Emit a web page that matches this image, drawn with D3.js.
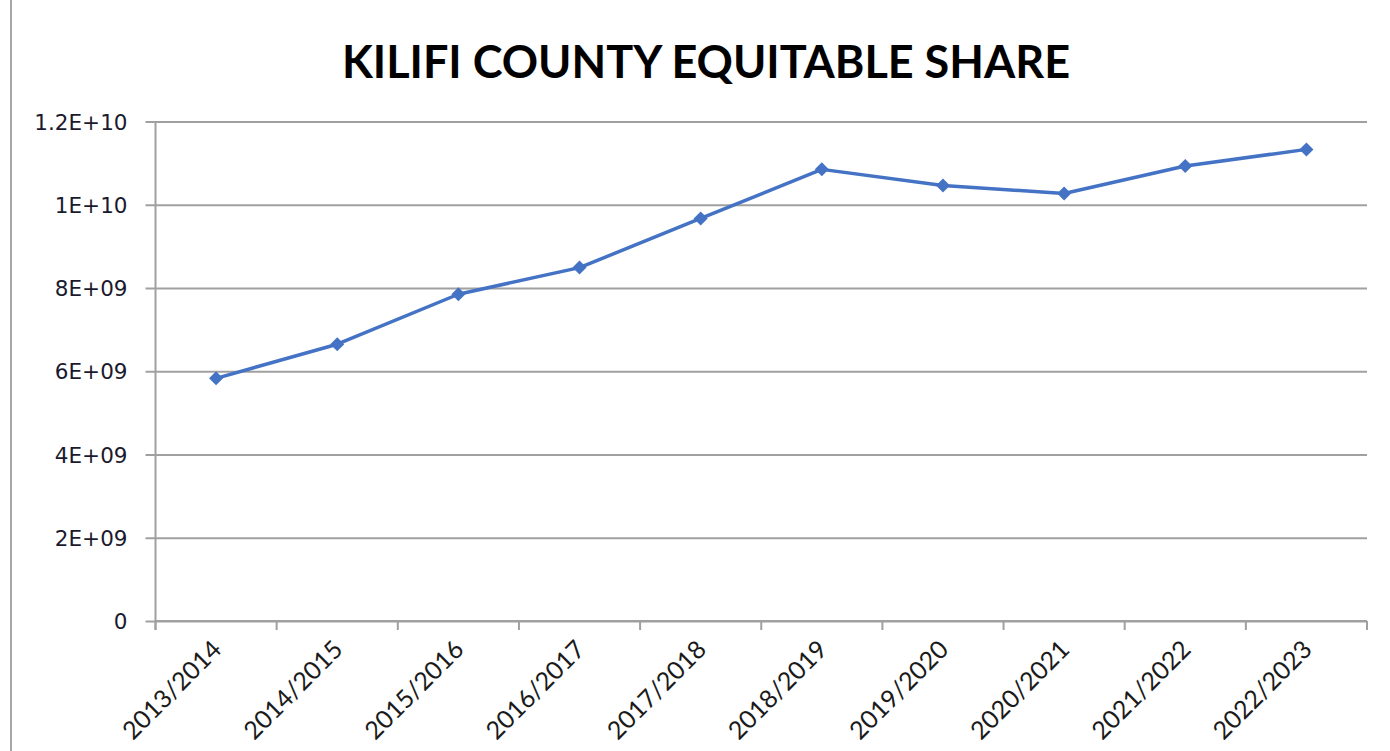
<!DOCTYPE html>
<html>
<head>
<meta charset="utf-8">
<script src="https://cdn.jsdelivr.net/npm/d3@7"></script>
<style>
  body { margin: 0; background: #fff; }
  svg { display: block; }
</style>
</head>
<body>
<div id="chart"></div>
<script>
// data
const years = ["2013/2014", "2014/2015", "2015/2016", "2016/2017", "2017/2018",
               "2018/2019", "2019/2020", "2020/2021", "2021/2022", "2022/2023"];
const share = [5.83e9, 6.65e9, 7.85e9, 8.49e9, 9.67e9,
               10.85e9, 10.46e9, 10.27e9, 10.93e9, 11.33e9];
const yTicks = [0, 2e9, 4e9, 6e9, 8e9, 1e10, 1.2e10];
const yTickLabels = ["0", "2E+09", "4E+09", "6E+09", "8E+09", "1E+10", "1.2E+10"];

const width = 1390, height = 751;
const plotLeft = 155.5, plotRight = 1367, plotTop = 121.5, plotBottom = 621;

const svg = d3.select("#chart").append("svg")
  .attr("width", width)
  .attr("height", height);

// left border of the frame
svg.append("line")
  .attr("x1", 11).attr("x2", 11)
  .attr("y1", 0).attr("y2", height)
  .attr("stroke", "#a6a6a6").attr("stroke-width", 2);

const X = d3.scaleBand().domain(years).range([plotLeft, plotRight]);
const Y = d3.scaleLinear().domain([0, 1.2e10]).range([plotBottom, plotTop]);

// gridlines + y labels
const yAxis = d3.axisLeft(Y)
  .tickValues(yTicks)
  .tickSize(-(plotRight - plotLeft))
  .tickFormat((d, i) => yTickLabels[i]);

const gy = svg.append("g")
  .attr("transform", `translate(${plotLeft},0)`)
  .call(yAxis);
gy.select(".domain").remove();
gy.selectAll(".tick line")
  .attr("x1", -10)
  .attr("stroke", "#a0a0a0").attr("stroke-width", 2);
gy.selectAll(".tick text")
  .attr("x", -28)
  .attr("dy", "0.35em")
  .attr("fill", "#1a1a2e")
  .style("font-family", "'DejaVu Sans', Verdana, sans-serif")
  .style("font-size", "21.5px");

// y axis line
svg.append("line")
  .attr("x1", plotLeft).attr("x2", plotLeft)
  .attr("y1", plotTop).attr("y2", plotBottom + 9)
  .attr("stroke", "#a0a0a0").attr("stroke-width", 2);

// x axis with tick marks at band edges
const edges = years.map(d => X(d)).concat([plotRight]);
svg.append("line")
  .attr("x1", plotLeft).attr("x2", plotRight)
  .attr("y1", plotBottom).attr("y2", plotBottom)
  .attr("stroke", "#a0a0a0").attr("stroke-width", 2);
svg.selectAll("line.xt")
  .data(edges)
  .join("line")
  .attr("class", "xt")
  .attr("x1", d => d).attr("x2", d => d)
  .attr("y1", plotBottom).attr("y2", plotBottom + 9)
  .attr("stroke", "#a0a0a0").attr("stroke-width", 2);

// x labels rotated
svg.selectAll("text.xl")
  .data(years)
  .join("text")
  .attr("class", "xl")
  .attr("transform", d => `translate(${X(d) + X.bandwidth() / 2 + 7},${plotBottom + 30}) rotate(-45)`)
  .attr("text-anchor", "end")
  .attr("fill", "#1a1a1a")
  .style("font-family", "Lato, 'Open Sans', sans-serif")
  .style("font-size", "25px")
  .text(d => d);

// line
const line = d3.line()
  .x((d, i) => X(years[i]) + X.bandwidth() / 2)
  .y(d => Y(d));

svg.append("path")
  .datum(share)
  .attr("d", line)
  .attr("fill", "none")
  .attr("stroke", "#4472C4")
  .attr("stroke-width", 3.5)
  .attr("stroke-linejoin", "round");

// diamond markers
svg.selectAll("path.mk")
  .data(share)
  .join("path")
  .attr("class", "mk")
  .attr("d", d3.symbol().type(d3.symbolDiamond2).size(125))
  .attr("transform", (d, i) => `translate(${X(years[i]) + X.bandwidth() / 2},${Y(d)})`)
  .attr("fill", "#4472C4");

// title
svg.append("text")
  .attr("x", 706)
  .attr("y", 78)
  .attr("text-anchor", "middle")
  .attr("fill", "#000")
  .style("font-family", "Lato, 'Open Sans', sans-serif")
  .style("font-weight", "bold")
  .style("font-size", "45px")
  .text("KILIFI COUNTY EQUITABLE SHARE");
</script>
</body>
</html>
